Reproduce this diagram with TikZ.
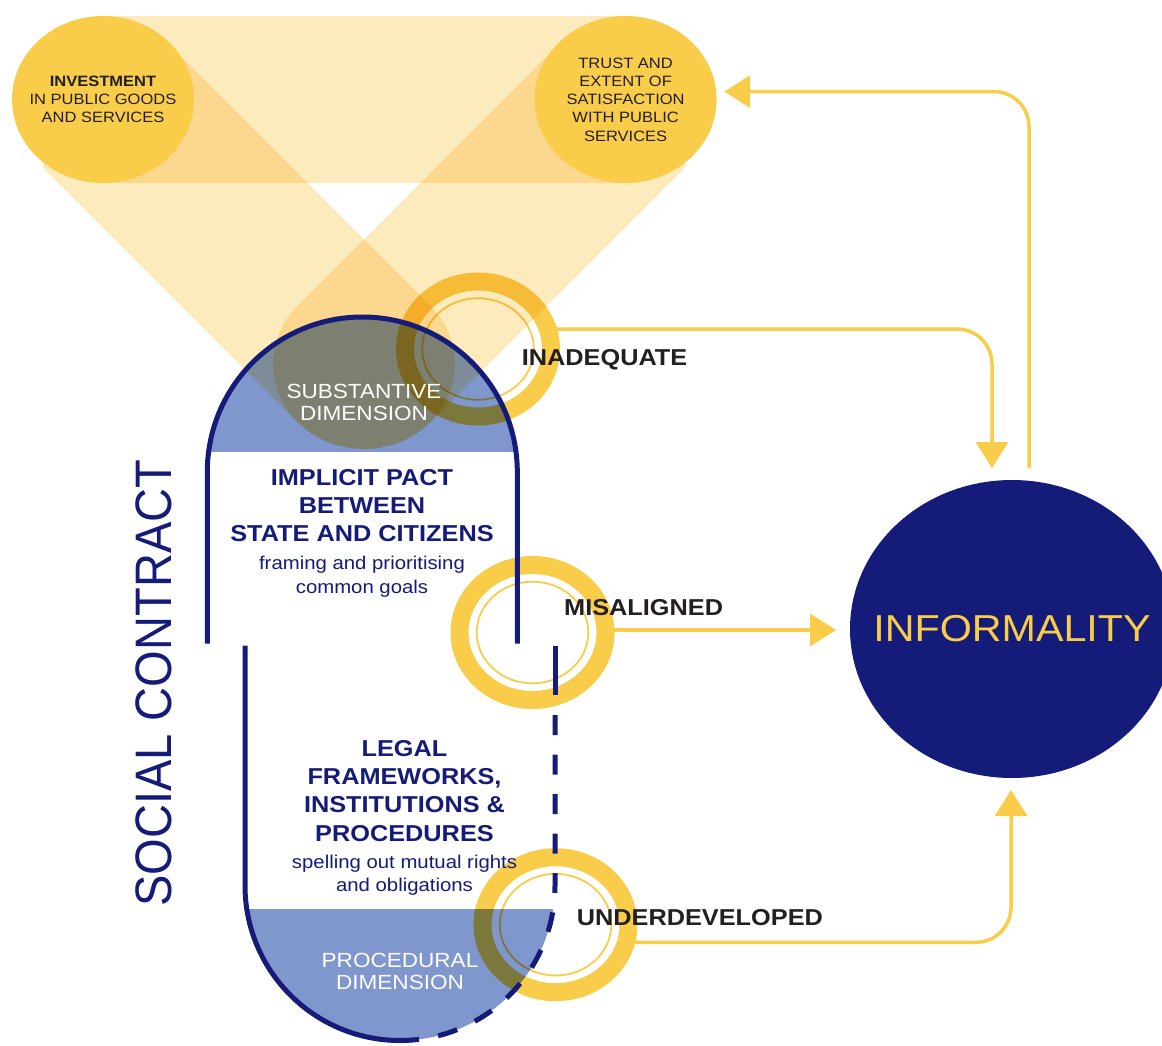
\documentclass[tikz,border=0pt]{standalone}
\usepackage{fontspec}
\setmainfont{Liberation Sans}[FakeStretch=1.1]
\newfontfamily\contractfont{Liberation Sans}[FakeStretch=0.917]
\usetikzlibrary{shapes.geometric, arrows.meta}

\definecolor{gold}{HTML}{F9CC4A}
\definecolor{navy}{HTML}{141B78}
\definecolor{slate}{HTML}{7F97CD}
\definecolor{haze}{HTML}{FDEBBE}
\definecolor{ink}{HTML}{231F20}

\tikzset{
    goal/.style = {ellipse, fill = gold, inner xsep = -15pt, inner ysep = 0pt, outer sep = 0pt, minimum width = 182pt, minimum height = 167pt, align = center, text = ink, font = \fontsize{15}{18.2}\selectfont},
    ring/.style = {ellipse, draw = gold, line width = 18pt, inner sep = 0pt, outer sep = 0pt, minimum width = 146pt, minimum height = 135pt},
    hairline/.style = {draw = gold, line width = 1.8pt},
    contour/.style = {draw = navy, line width = 5pt},
    flow/.style = {draw = gold, line width = 3.5pt, rounded corners = 35pt, -{Triangle[width = 32pt, length = 26pt]}},
    verdict/.style = {anchor = base west, inner sep = 0pt, text = ink, font = \fontsize{23}{28}\selectfont\bfseries},
    heading/.style = {align = center, text = navy, inner sep = 0pt, font = \fontsize{23}{28.3}\selectfont\bfseries},
    remark/.style = {align = center, text = navy, inner sep = 0pt, font = \fontsize{18.5}{23.3}\selectfont},
    dimension/.style = {align = center, text = white, inner sep = 0pt, font = \fontsize{20.5}{22}\selectfont},
}

\begin{document}
\begin{tikzpicture}[x = 1pt, y = -1pt]
    \useasboundingbox (0, 0) rectangle (1162, 1046);

    % blue caps of the two halves
    \begin{scope}
        \clip (0, 0) rectangle (1162, 451.7);
        \fill [slate] (362.3, 472) circle [radius = 155];
    \end{scope}
    \begin{scope}
        \clip (0, 909) rectangle (1162, 1046);
        \fill [slate] (400, 885.5) circle [radius = 155];
    \end{scope}

    % light beams
    \begin{scope}[blend mode = multiply]
        \fill [haze] (103, 16) rectangle (625.6, 183);
        \fill [haze] (168.5, 44) -- (430.5, 306) arc [start angle = -43, end angle = 137, x radius = 91, y radius = 85] -- (42, 166.5) -- cycle;
        \fill [haze] (560.1, 43.4) -- (297.5, 306) arc [start angle = 223, end angle = 43, x radius = 91, y radius = 85] -- (686.6, 165.9) -- cycle;
    \end{scope}

    \node [goal] (invest) at (103, 99.5) {\textbf{INVESTMENT}\\IN PUBLIC GOODS\\AND SERVICES};
    \node [goal] (trust) at (625.6, 99.5) {TRUST AND\\EXTENT OF\\SATISFACTION\\WITH PUBLIC\\SERVICES};

    % rings
    \begin{scope}[blend mode = multiply]
        \foreach \name/\x/\y in {inadRing/478/349, misRing/532.5/632.5, devRing/555.5/924.7} {
            \node [ring] (\name) at (\x, \y) {};
            \draw [hairline] (\x, \y) ellipse [x radius = 55.8, y radius = 50.8];
        }
    \end{scope}

    % the two halves
    \draw [contour] (207.3, 643.5) -- (207.3, 472) arc [start angle = 180, end angle = 360, radius = 155] -- (517.3, 643.5);
    \draw [contour] (245, 645.7) -- (245, 885.5) arc [start angle = 180, end angle = 90, radius = 155];
    \draw [contour] (555, 645.7) -- (555, 695);
    \draw [contour, dash pattern = on 20pt off 19.5pt] (555, 715) -- (555, 885.5) arc [start angle = 0, end angle = 90, radius = 155];

    \node [dimension] (substantive) at (364, 402) {SUBSTANTIVE\\DIMENSION};
    \node [dimension] (procedural) at (400, 971.7) {PROCEDURAL\\DIMENSION};
    \node [heading] (pact) at (362, 505.7) {IMPLICIT PACT\\BETWEEN\\STATE AND CITIZENS};
    \node [remark] (pactNote) at (362, 576.7) {framing and prioritising\\common goals};
    \node [heading] (legal) at (404.5, 790.8) {LEGAL\\FRAMEWORKS,\\INSTITUTIONS \&\\PROCEDURES};
    \node [remark] (legalNote) at (404.5, 875) {spelling out mutual rights\\and obligations};
    \node [rotate = 90, text = navy, inner sep = 0pt, font = \contractfont\fontsize{51.3}{52}\selectfont] (contract) at (154.3, 683.3) {SOCIAL CONTRACT};

    \node [verdict] (inadequate) at (521.7, 365) {INADEQUATE};
    \node [verdict] (misaligned) at (564, 615) {MISALIGNED};
    \node [verdict] (underdeveloped) at (576.7, 925) {UNDERDEVELOPED};

    \node [ellipse, fill = navy, minimum width = 324pt, minimum height = 298pt, inner xsep = -30pt, inner ysep = 0pt, outer sep = 0pt, text = gold, font = \fontsize{37.5}{40}\selectfont] (informality) at (1012, 629) {INFORMALITY};

    % arrows
    \coordinate (infoInA) at ([xshift = -20pt, yshift = 12pt] informality.north);
    \coordinate (infoOut) at ([xshift = 17pt, yshift = 12pt] informality.north);
    \coordinate (infoInD) at ([xshift = -1pt, yshift = -12pt] informality.south);
    \draw [flow] (inadRing.16) -| (infoInA);
    \draw [flow, shorten > = 8pt] (infoOut) |- (trust.5);
    \draw [flow, shorten > = 14pt] (misRing.2) -- (misRing.2 -| informality.west);
    \draw [flow] (devRing.-14) -| (infoInD);
\end{tikzpicture}
\end{document}
